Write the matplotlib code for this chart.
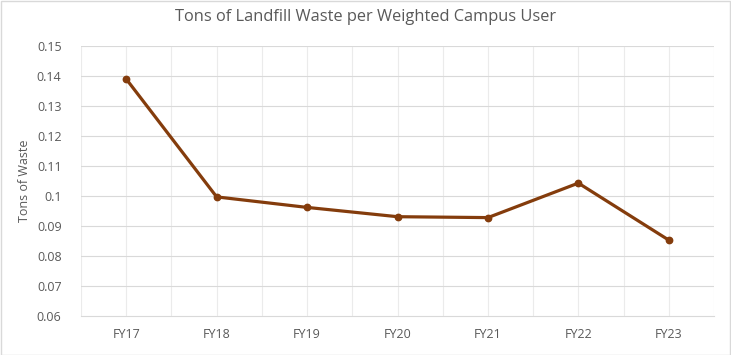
import matplotlib
matplotlib.use("Agg")
import matplotlib.pyplot as plt
from matplotlib.patches import Rectangle
import numpy as np

categories = ["FY17", "FY18", "FY19", "FY20", "FY21", "FY22", "FY23"]
values = [0.139, 0.0997, 0.0962, 0.0931, 0.0928, 0.1043, 0.0853]
yticks = [0.06, 0.07, 0.08, 0.09, 0.10, 0.11, 0.12, 0.13, 0.14, 0.15]
ytick_labels = ["0.06", "0.07", "0.08", "0.09", "0.1", "0.11", "0.12", "0.13", "0.14", "0.15"]

plt.rcParams['font.family'] = ['Open Sans', 'DejaVu Sans']
fig = plt.figure(figsize=(7.31, 3.55), dpi=100)
fig.patches.append(Rectangle((0.5/731, 0.5/355), 1 - 1.5/731, 1 - 1.5/355, transform=fig.transFigure,
                             fill=False, edgecolor="#D9D9D9", linewidth=1))
ax = fig.add_axes([81/731, 1 - 316/355, (714 - 81)/731, (316 - 46)/355])

x = np.arange(len(categories))
ax.set_xlim(-0.5, len(categories) - 0.5)
ax.set_ylim(0.06, 0.15)

for gx in np.arange(-0.5, len(categories), 0.5):
    ax.axvline(gx, color="#EBEBEB", linewidth=0.8, zorder=0)
for gy in yticks[1:]:
    ax.axhline(gy, color="#D9D9D9", linewidth=0.8, zorder=0)

ax.plot(x, values, color="#843C0C", linewidth=2.3, marker="o", markersize=4.6, zorder=3)

for s in ["top", "right", "left"]:
    ax.spines[s].set_visible(False)
ax.spines["bottom"].set_color("#D9D9D9")
ax.spines["bottom"].set_linewidth(0.8)

ax.set_xticks(x)
ax.set_xticklabels(categories)
ax.set_yticks(yticks)
ax.set_yticklabels(ytick_labels)
ax.tick_params(axis="both", length=0, labelsize=9, colors="#595959")
ax.tick_params(axis="x", pad=9)
ax.tick_params(axis="y", pad=14)

ax.set_ylabel("Tons of Waste", fontsize=9, color="#595959", labelpad=4)
fig.text(0.5, 1 - 17/355, "Tons of Landfill Waste per Weighted Campus User", ha="center", va="center",
         fontsize=11.8, color="#595959")

fig.savefig("out.png", dpi=100)
